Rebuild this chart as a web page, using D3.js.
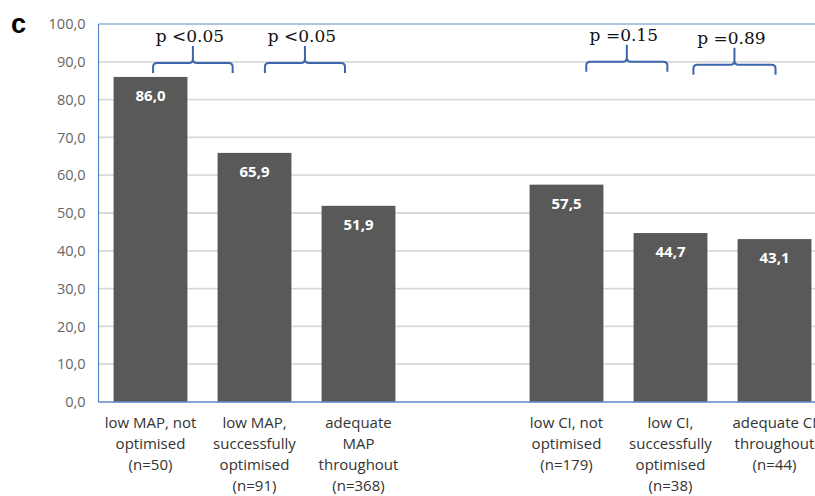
<!DOCTYPE html>
<html><head><meta charset="utf-8">
<script src="https://cdn.jsdelivr.net/npm/d3@7/dist/d3.min.js"></script>
<style>body{margin:0;background:#fff}svg{display:block}</style>
</head><body>
<svg id="c" width="815" height="496"></svg>
<script>
const categories = [
  ["low MAP, not","optimised","(n=50)"],
  ["low MAP,","successfully","optimised","(n=91)"],
  ["adequate","MAP","throughout","(n=368)"],
  [],
  ["low CI, not","optimised","(n=179)"],
  ["low CI,","successfully","optimised","(n=38)"],
  ["adequate CI","throughout","(n=44)"]
];
const values = [86.0, 65.9, 51.9, null, 57.5, 44.7, 43.1];
const yTicks = [0,10,20,30,40,50,60,70,80,90,100];
const pLabels = ["p <0.05","p <0.05","p =0.15","p =0.89"];
// brace spans in category-band units
const braceFrom = [0.525, 1.60, 4.69, 5.72];
const braceTo   = [1.29, 2.37, 5.47, 6.51];
const braceLevel = [89.7, 89.7, 90.0, 89.2];

(function(){
const svg = d3.select("#c");
const pLeft = 98.5, pTop = 24, pBottom = 402, bandW = 104;
const idx = d3.range(categories.length);
const x = d3.scaleBand().domain(idx).range([pLeft, pLeft + bandW*categories.length]).paddingInner(0.29).paddingOuter(0.145);
const xu = d3.scaleLinear().domain([0, categories.length]).range([pLeft, pLeft + bandW*categories.length]);
const y = d3.scaleLinear().domain([0,100]).range([pBottom, pTop]);
const blue = "#5b87c9";

// gridlines
svg.append("g").selectAll("line").data(yTicks.filter(d=>d>0 && d<100)).join("line")
  .attr("x1", pLeft).attr("x2", 815).attr("y1", d=>y(d)).attr("y2", d=>y(d))
  .attr("stroke", "#d9d9d9").attr("stroke-width", 1.8);

// y axis labels
const yAxis = d3.axisLeft(y).tickValues(yTicks).tickSize(0).tickPadding(13)
  .tickFormat(d => d3.format(".1f")(d).replace(".", ","));
const ga = svg.append("g").attr("transform", `translate(${pLeft},0)`).call(yAxis);
ga.select(".domain").remove();
ga.selectAll("text").attr("fill", "#666").style("font-family", "Open Sans, sans-serif").style("font-size", "14.5px");

// bars
const bars = idx.filter(i => values[i] != null);
svg.append("g").selectAll("rect").data(bars).join("rect")
  .attr("x", i => x(i)).attr("width", x.bandwidth())
  .attr("y", i => y(values[i])).attr("height", i => y(0) - y(values[i]))
  .attr("fill", "#595959");
svg.append("g").selectAll("text").data(bars).join("text")
  .attr("x", i => x(i) + x.bandwidth()/2).attr("y", i => y(values[i]) + 24)
  .attr("text-anchor", "middle").attr("fill", "#fff")
  .style("font-family", "Open Sans, sans-serif").style("font-weight", "bold").style("font-size", "15px")
  .text(i => d3.format(".1f")(values[i]).replace(".", ","));

// plot border (left, top, bottom)
svg.append("line").attr("x1", pLeft).attr("x2", pLeft).attr("y1", pTop).attr("y2", pBottom).attr("stroke", blue).attr("stroke-width", 1.2);
svg.append("line").attr("x1", pLeft).attr("x2", 815).attr("y1", pTop).attr("y2", pTop).attr("stroke", blue).attr("stroke-width", 1.2);
svg.append("line").attr("x1", pLeft).attr("x2", 815).attr("y1", pBottom).attr("y2", pBottom).attr("stroke", blue).attr("stroke-width", 1.5);

// category labels
const cg = svg.append("g");
idx.forEach(i => {
  const t = cg.append("text").attr("text-anchor", "middle")
    .attr("x", x(i) + x.bandwidth()/2).attr("y", 428)
    .attr("fill", "#333").style("font-family", "Open Sans, sans-serif").style("font-size", "15px");
  categories[i].forEach((line, k) => t.append("tspan").attr("x", x(i) + x.bandwidth()/2).attr("y", 428 + k*21).text(line));
});

// braces and p labels
const bg = svg.append("g");
pLabels.forEach((p, i) => {
  const x0 = xu(braceFrom[i]), x1 = xu(braceTo[i]), xm = (x0 + x1)/2;
  const yl = y(braceLevel[i]), ye = yl + 10, yt = yl - 17, r = 4;
  const path = `M${x0},${ye} L${x0},${yl+r} Q${x0},${yl} ${x0+r},${yl} L${xm-r},${yl} Q${xm},${yl} ${xm},${yl-r} L${xm},${yt}
    M${xm},${yl-r} Q${xm},${yl} ${xm+r},${yl} L${x1-r},${yl} Q${x1},${yl} ${x1},${yl+r} L${x1},${ye}`;
  bg.append("path").attr("d", path).attr("fill", "none").attr("stroke", "#3d65ad").attr("stroke-width", 2);
  bg.append("text").attr("x", xm - 3).attr("y", yt - 4).attr("text-anchor", "middle")
    .attr("fill", "#111").style("font-family", "DejaVu Serif, serif").style("font-size", "17px").text(p);
});

// panel letter
svg.append("text").attr("x", 11).attr("y", 33).attr("fill", "#000")
  .style("font-family", "Liberation Sans, Arial, sans-serif").style("font-weight", "bold").style("font-size", "27px").text("c");
})();
</script>
</body></html>
